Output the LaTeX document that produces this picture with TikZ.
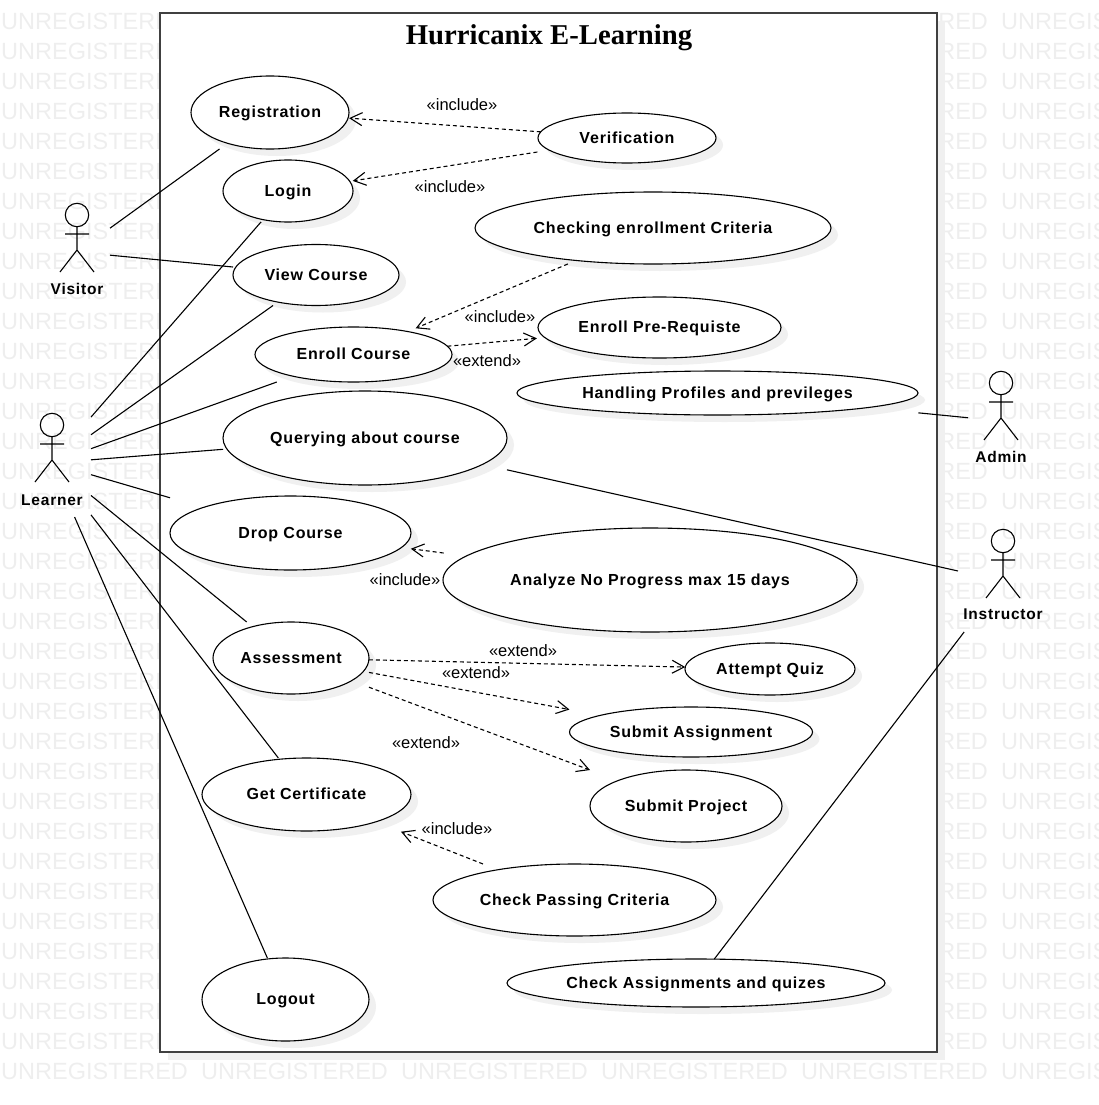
\documentclass[tikz,border=0pt]{standalone}
\usepackage{fontspec}
\setmainfont{Liberation Sans}
\newfontfamily\titlefont{Liberation Serif}
\newfontfamily\casefont{Liberation Sans}[LetterSpace=5]
\usetikzlibrary{shapes.geometric,shadows,arrows.meta}
\definecolor{shadowgray}{HTML}{F0F0F0}
\definecolor{markgray}{HTML}{EEEEEE}
\definecolor{framegray}{HTML}{404040}
\tikzset{
  usecase/.style={ellipse,draw,fill=white,line width=1.1pt,inner sep=0pt,outer sep=0pt,
    text height=10.5pt,text depth=0pt,
    font=\casefont\bfseries\fontsize{16}{18}\selectfont,
    drop shadow={shadow xshift=7pt,shadow yshift=-7pt,fill=shadowgray,opacity=1}},
  actorbox/.style={rectangle,inner sep=0pt,outer sep=0pt},
  actorname/.style={inner sep=0pt,font=\casefont\bfseries\fontsize{15.5}{18}\selectfont},
  stereo/.style={inner sep=0pt,yshift=-1pt,font=\fontsize{16.5}{18}\selectfont},
  assoc/.style={line width=1.1pt},
  depends/.style={line width=1.1pt,dash pattern=on 4pt off 3pt,
    -{Straight Barb[length=12pt,width=13pt,line width=1.1pt]}},
}
\newcommand{\stickman}[2]{% head centre
  \draw[line width=1.1pt] (#1,#2) circle (11.7)
    (#1,#2+11.7) -- (#1,#2+35) (#1-12,#2+19) -- (#1+12,#2+19)
    (#1-17,#2+57) -- (#1,#2+35) -- (#1+17,#2+57);
}
\begin{document}
\begin{tikzpicture}[x=1pt,y=-1pt]
   \useasboundingbox (0,0) rectangle (1099,1105);
   \path[clip] (0,0) rectangle (1099,1105);
   % watermark
   \foreach \ypos in {21,51,...,1071}
     \foreach \xpos in {1,801,1001}
       \node[anchor=west,inner sep=0pt,text=markgray,font=\fontsize{23.5}{24}\selectfont]
         (wm\xpos x\ypos) at (\xpos,\ypos) {UNREGISTERED};
   \foreach \xpos in {201,401,601}
     \node[anchor=west,inner sep=0pt,text=markgray,font=\fontsize{23.5}{24}\selectfont]
       (wm\xpos) at (\xpos,1071) {UNREGISTERED};
   % system boundary
   \node[rectangle,draw=framegray,fill=white,line width=1.5pt,inner sep=0pt,outer sep=0pt,
     minimum width=777,minimum height=1039,
     drop shadow={shadow xshift=8pt,shadow yshift=-8pt,fill=shadowgray,opacity=1}]
     (system) at (548.5,532.5) {};
   \node[inner sep=0pt,font=\titlefont\bfseries\fontsize{28.7}{30}\selectfont]
     (title) at (549,37.5) {Hurricanix E-Learning};
   % use cases
   \node[usecase,minimum width=158,minimum height=73] (registration) at (270,112.5) {Registration};
   \node[usecase,minimum width=130,minimum height=62] (login) at (288,191) {Login};
   \node[usecase,minimum width=166,minimum height=61] (viewcourse) at (316,275) {View Course};
   \node[usecase,minimum width=197,minimum height=55] (enroll) at (353.5,354.5) {Enroll Course};
   \node[usecase,minimum width=284,minimum height=94] (querying) at (365,438) {Querying about course};
   \node[usecase,minimum width=241,minimum height=74] (drop) at (290.5,533) {Drop Course};
   \node[usecase,minimum width=156,minimum height=72] (assessment) at (291,658) {Assessment};
   \node[usecase,minimum width=209,minimum height=73] (certificate) at (306.5,794.5) {Get Certificate};
   \node[usecase,minimum width=167,minimum height=83] (logout) at (285.5,999.5) {Logout};
   \node[usecase,minimum width=178,minimum height=50] (verification) at (627,138) {Verification};
   \node[usecase,minimum width=356,minimum height=72] (criteria) at (653,228) {Checking enrollment Criteria};
   \node[usecase,minimum width=243,minimum height=61] (prereq) at (659.5,327.5) {Enroll Pre-Requiste};
   \node[usecase,minimum width=401,minimum height=44] (profiles) at (717.5,393) {Handling Profiles and previleges};
   \node[usecase,minimum width=414,minimum height=104] (progress) at (650,580) {Analyze No Progress max 15 days};
   \node[usecase,minimum width=170,minimum height=52] (quiz) at (770,669) {Attempt Quiz};
   \node[usecase,minimum width=243,minimum height=50] (assignment) at (691,732) {Submit Assignment};
   \node[usecase,minimum width=192,minimum height=72] (project) at (686,806) {Submit Project};
   \node[usecase,minimum width=283,minimum height=72] (passing) at (574.5,900) {Check Passing Criteria};
   \node[usecase,minimum width=378,minimum height=48] (checkwork) at (696,983) {Check Assignments and quizes};
   % actors
   \node[actorbox,minimum width=66,minimum height=96] (visitor) at (77,252) {};
   \node[actorbox,minimum width=80,minimum height=108] (learner) at (51,463) {};
   \node[actorbox,minimum width=66,minimum height=96] (admin) at (1001,421) {};
   \node[actorbox,minimum width=90,minimum height=102] (instructor) at (1003,581) {};
   \stickman{77}{215}
   \stickman{52}{425}
   \stickman{1001}{383}
   \stickman{1003}{541}
   \node[actorname] (visitorname) at (77,289) {Visitor};
   \node[actorname] (learnername) at (52,500) {Learner};
   \node[actorname] (adminname) at (1001,457) {Admin};
   \node[actorname] (instructorname) at (1003,614) {Instructor};
   % associations
   \draw[assoc,shorten >=9.8pt] (visitor) -- (registration);
   \draw[assoc,shorten >=2.7pt] (visitor) -- (viewcourse);
   \draw[assoc,shorten >=3pt] (learner) -- (login);
   \draw[assoc,shorten >=5.9pt] (learner) -- (viewcourse);
   \draw[assoc,shorten >=17.2pt] (learner) -- (enroll);
   \draw[assoc,shorten >=3.9pt] (learner) -- (querying);
   \draw[assoc,shorten >=34.6pt] (learner) -- (drop);
   \draw[assoc,shorten >=7.5pt] (learner) -- (assessment);
   \draw[assoc,shorten >=1.6pt] (learner) -- (certificate);
   \draw[assoc,shorten >=1pt] (learner) -- (logout);
   \draw[assoc,shorten >=52pt] (admin) -- (profiles);
   \draw[assoc,shorten >=25pt] (instructor) -- (querying);
   \draw[assoc] (instructor) -- (checkwork);
   % include and extend
   \draw[depends,shorten >=1pt] (verification) -- (registration);
   \draw[depends,shorten <=12pt,shorten >=3pt] (verification) -- (login);
   \draw[depends,shorten <=9pt,shorten >=8.5pt] (criteria) -- (enroll);
   \draw[depends,shorten >=8pt] (enroll) -- (prereq);
   \draw[depends,shorten <=23pt,shorten >=9.5pt] (progress) -- (drop);
   \draw[depends] (assessment) -- (quiz);
   \draw[depends,shorten <=5.7pt,shorten >=31.7pt] (assessment) -- (assignment);
   \draw[depends,shorten <=18.6pt,shorten >=30pt] (assessment) -- (project);
   \draw[depends,shorten <=15.8pt,shorten >=27pt] (passing) -- (certificate);
   \node[stereo] (inc1) at (462,104) {«include»};
   \node[stereo] (inc2) at (450,186) {«include»};
   \node[stereo] (inc3) at (500,316) {«include»};
   \node[stereo] (ext1) at (487,360) {«extend»};
   \node[stereo] (inc4) at (405,579) {«include»};
   \node[stereo] (ext2) at (523,650) {«extend»};
   \node[stereo] (ext3) at (476,672) {«extend»};
   \node[stereo] (ext4) at (426,742) {«extend»};
   \node[stereo] (inc5) at (457,828) {«include»};
\end{tikzpicture}
\end{document}
